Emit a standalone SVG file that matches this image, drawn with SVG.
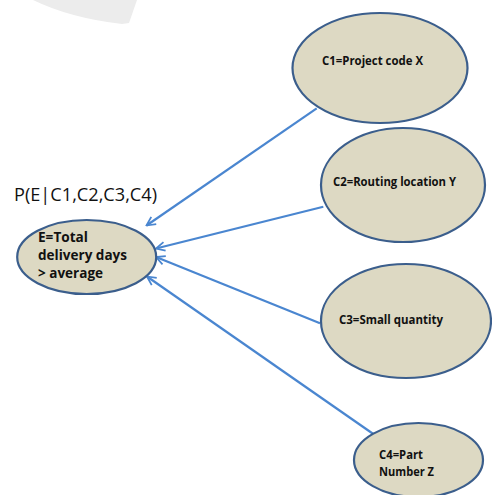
<svg xmlns="http://www.w3.org/2000/svg" width="492" height="495" viewBox="0 0 492 495">
  <style>
    .node { fill: #ddd9c3; stroke: #3b5e8c; stroke-width: 2.2; }
    .edge { stroke: #4a86d0; stroke-width: 2.2; fill: none; marker-end: url(#chev); }
    .lbl { font-family: "Open Sans", "Liberation Sans", sans-serif; font-weight: bold; font-size: 11.5px; fill: #111; }
    .big { font-family: "Open Sans", "Liberation Sans", sans-serif; font-weight: bold; font-size: 14px; fill: #111; }
    .title { font-family: "Open Sans", "Liberation Sans", sans-serif; font-size: 18px; fill: #111; }
  </style>
  <defs>
    <marker id="chev" viewBox="0 0 10 10" refX="9" refY="5" markerWidth="5" markerHeight="5" orient="auto" markerUnits="strokeWidth">
      <path d="M1,1 L9,5 L1,9" fill="none" stroke="#4a86d0" stroke-width="1.6"/>
    </marker>
  </defs>
  <rect width="492" height="495" fill="#ffffff"/>
  <!-- faint grey shape at top -->
  <path d="M33,0 Q70,18 122,24 L129,23 L137,0 Z" fill="#ececec"/>

  <g id="connectors">
    <line class="edge" x1="316.7" y1="108.3" x2="146.5" y2="225.5"/>
    <line class="edge" x1="323.3" y1="206.7" x2="156" y2="248.5"/>
    <line class="edge" x1="320" y1="323.3" x2="156" y2="257"/>
    <line class="edge" x1="373.3" y1="434" x2="147" y2="276.5"/>
  </g>

  <text class="title" x="14" y="201" textLength="143" lengthAdjust="spacingAndGlyphs">P(E|C1,C2,C3,C4)</text>

  <g id="E">
    <ellipse class="node" cx="86.7" cy="257" rx="69.5" ry="37"/>
    <text class="big" x="38" y="242" textLength="50" lengthAdjust="spacingAndGlyphs">E=Total</text>
    <text class="big" x="38" y="260" textLength="89" lengthAdjust="spacingAndGlyphs">delivery days</text>
    <text class="big" x="38" y="278" textLength="65" lengthAdjust="spacingAndGlyphs">&gt; average</text>
  </g>

  <g id="C1">
    <ellipse class="node" cx="380" cy="68" rx="87.5" ry="55"/>
    <text class="lbl" x="322" y="65" textLength="101" lengthAdjust="spacingAndGlyphs">C1=Project code X</text>
  </g>

  <g id="C2">
    <ellipse class="node" cx="403" cy="185" rx="82" ry="57"/>
    <text class="lbl" x="333" y="186" textLength="123" lengthAdjust="spacingAndGlyphs">C2=Routing location Y</text>
  </g>

  <g id="C3">
    <ellipse class="node" cx="406" cy="321" rx="85" ry="57"/>
    <text class="lbl" x="339" y="324" textLength="104" lengthAdjust="spacingAndGlyphs">C3=Small quantity</text>
  </g>

  <g id="C4">
    <ellipse class="node" cx="418.5" cy="460" rx="64.5" ry="37"/>
    <text class="lbl" x="379" y="459" textLength="44" lengthAdjust="spacingAndGlyphs">C4=Part</text>
    <text class="lbl" x="379" y="476" textLength="55" lengthAdjust="spacingAndGlyphs">Number Z</text>
  </g>
</svg>
